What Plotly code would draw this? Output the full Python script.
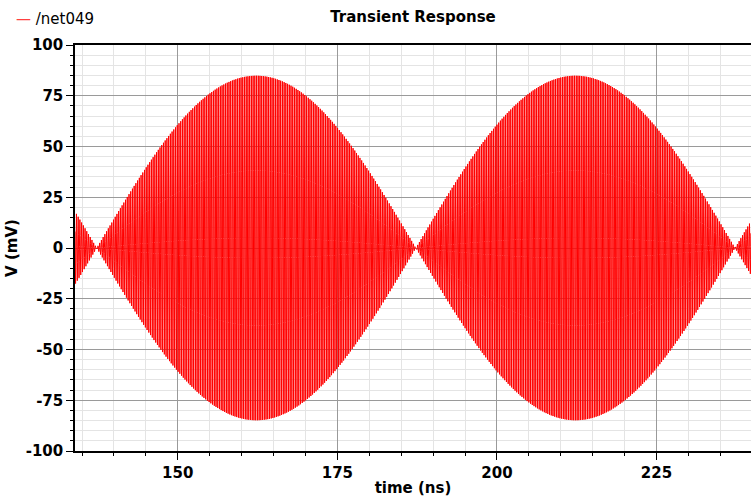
import numpy as np
import plotly.graph_objects as go

# ---- values ----
signal_name = "/net049"
t_start_ns = 133.9          # left edge of the plot (ns)
t_end_ns = 239.8            # right edge of the plot (ns)
envelope_peak_mV = 85.0     # peak of the envelope (mV)
envelope_null_ns = 137.3    # time of an envelope null (ns)
envelope_null_spacing_ns = 50.0  # spacing between nulls (ns)
carrier_period_ns = 0.27    # carrier period (ns)

y_tick_vals = [-100, -75, -50, -25, 0, 25, 50, 75, 100]
y_tick_text = ["-100", "-75", "-50", "-25", "0", "25", "50", "75", "100"]
x_tick_vals = [150, 175, 200, 225]
x_tick_text = ["150", "175", "200", "225"]

# ---- waveform: DSB modulated carrier ----
t = np.arange(t_start_ns, t_end_ns, carrier_period_ns / 12)
env = envelope_peak_mV * np.sin(np.pi * (t - envelope_null_ns) / envelope_null_spacing_ns)
v = env * np.sin(2 * np.pi * t / carrier_period_ns)

FONT = "DejaVu Sans"
W, H = 751, 502
L, R, T, B = 75, 0, 45, 51

fig = go.Figure()
fig.add_trace(go.Scatter(x=t, y=v, mode="lines", name=signal_name,
                         line=dict(color="#ff0000", width=1), showlegend=False))

fig.update_layout(
    width=W, height=H,
    margin=dict(l=L, r=R, t=T, b=B, autoexpand=False),
    paper_bgcolor="white", plot_bgcolor="white",
    font=dict(family=FONT, size=15, color="black"),
    title=dict(text="<b>Transient Response</b>", x=(L + (W - L - R) / 2) / W, xref="container",
               xanchor="center", y=1 - 17 / H, yref="container", yanchor="middle",
               font=dict(family=FONT, size=15, color="black")),
    showlegend=False,
    annotations=[dict(
        text="<span style='color:#ff4040'>—</span> " + signal_name,
        xref="paper", yref="paper",
        x=(14 - L) / (W - L - R), y=1 + (T - 19) / (H - T - B),
        xanchor="left", yanchor="middle", showarrow=False,
        font=dict(family=FONT, size=15, color="black"))],
)

fig.update_xaxes(
    range=[t_start_ns, t_end_ns], automargin=False,
    tickvals=x_tick_vals, ticktext=x_tick_text,
    ticks="outside", ticklen=7, tickcolor="black", tickwidth=1,
    showline=True, linecolor="black", linewidth=1.5, mirror=True,
    showgrid=True, gridcolor="#9a9a9a", gridwidth=1,
    zeroline=False,
    minor=dict(dtick=5, tick0=0, showgrid=True, gridcolor="#e4e4e4",
               ticks="outside", ticklen=3, tickcolor="black"),
    title=dict(text="<b>time (ns)</b>", standoff=2, font=dict(family=FONT, size=15)),
    tickfont=dict(family=FONT, size=15, weight="bold"),
)
fig.update_yaxes(
    range=[-100, 100], automargin=False,
    tickvals=y_tick_vals, ticktext=y_tick_text,
    ticks="outside", ticklen=7, tickcolor="black", tickwidth=1,
    showline=True, linecolor="black", linewidth=1.5,
    showgrid=True, gridcolor="#9a9a9a", gridwidth=1,
    zeroline=False,
    minor=dict(dtick=5, tick0=0, showgrid=True, gridcolor="#e4e4e4",
               ticks="outside", ticklen=3, tickcolor="black"),
    title=dict(text="<b>V (mV)</b>", standoff=4, font=dict(family=FONT, size=15)),
    tickfont=dict(family=FONT, size=15, weight="bold"),
)

fig.write_html("out.html", config={"displayModeBar": False},
               post_script="document.body.style.margin='0';document.body.style.overflow='hidden';")
